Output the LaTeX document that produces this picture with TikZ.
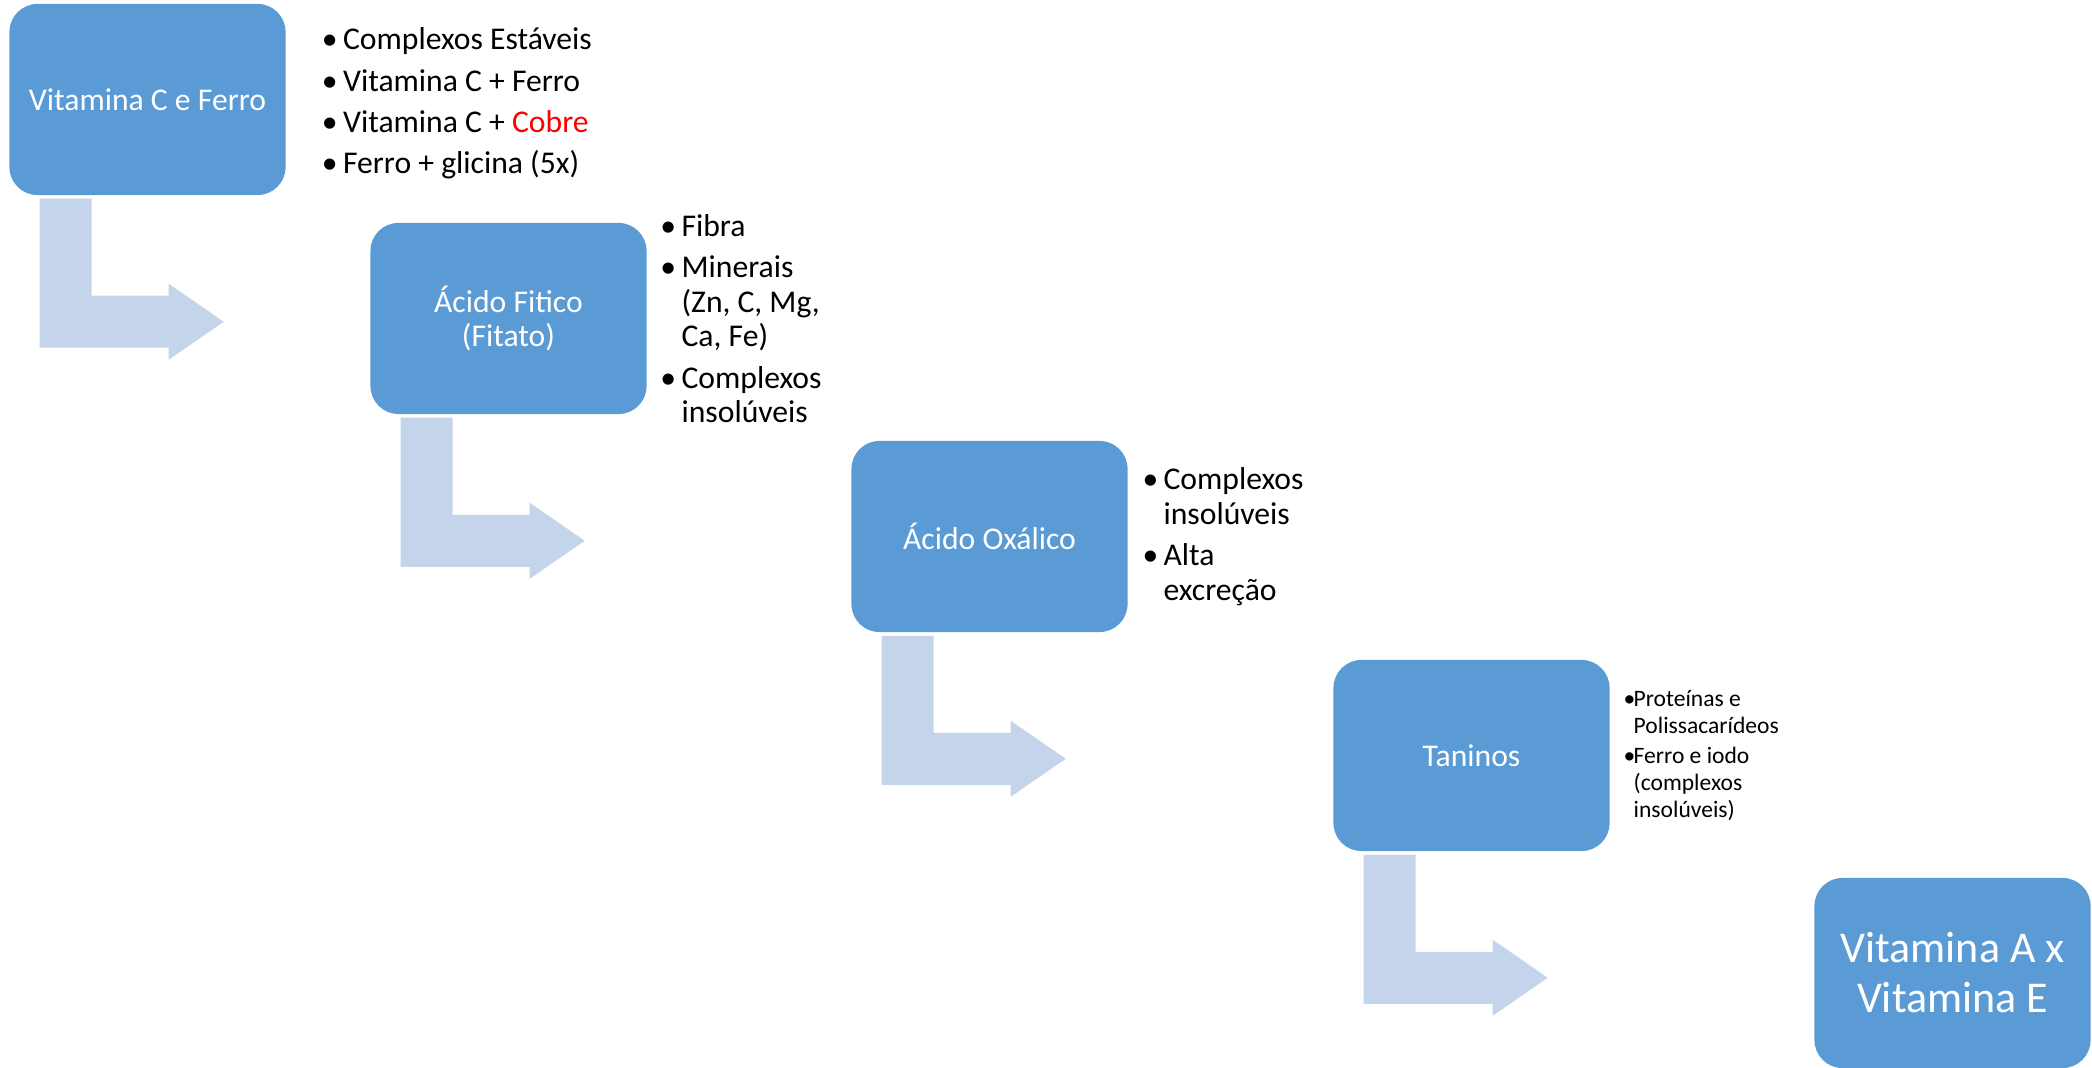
\documentclass[tikz,border=0pt]{standalone}
\usepackage{fontspec}
\setmainfont{Carlito}
\usepackage{xcolor}
\usepackage{tikz}
\usetikzlibrary{calc}
\definecolor{boxblue}{HTML}{5B9BD5}
\definecolor{arrowblue}{HTML}{C4D4EA}
\newcommand{\bul}[1][6pt]{\makebox[#1][l]{•}}
\newcommand{\cont}[1][6pt]{\hspace*{#1}}
\tikzset{
  stepbox/.style={rectangle, rounded corners=0.28cm, fill=boxblue, text=white,
                  minimum width=2.76cm, minimum height=1.91cm, align=center,
                  inner sep=2pt, font=\fontsize{9}{9.7}\selectfont},
  bigbox/.style={stepbox, minimum height=1.9cm,
                 font=\fontsize{12.5}{14.2}\selectfont},
  itemlist/.style={anchor=west, inner sep=0pt, text width=3.2cm, align=left,
                   font=\fontsize{9}{9.8}\selectfont,
                   execute at begin node={\spaceskip=0pt\xspaceskip=0pt\relax}},
  smalllist/.style={itemlist, font=\fontsize{6.7}{7.6}\selectfont},
  bentarrow/.style={fill=arrowblue, draw=none},
}

\begin{document}
\begin{tikzpicture}[x=0.01cm, y=-0.01cm]
  \useasboundingbox (0,0) rectangle (2092,1068);

  \node[stepbox] (vitc)    at (147.5,99.5)  {Vitamina C e Ferro};
  \node[stepbox] (fitico)  at (508.5,318.5) {Ácido Fitico\\(Fitato)};
  \node[stepbox] (oxalico) at (989.5,536.5) {Ácido Oxálico};
  \node[stepbox] (taninos) at (1471.5,755.5){Taninos};
  \node[bigbox]  (vitae)   at (1952.5,973)  {Vitamina A x\\Vitamina E};

  \node[itemlist]  (lvitc)    at ($(vitc.east)+(35,4)$)
    {\bul Complexos Estáveis\\[2pt]\bul Vitamina C + Ferro\\[2pt]\bul Vitamina C + \textcolor{red}{Cobre}\\[2pt]\bul Ferro + glicina (5x)};
  \node[itemlist]  (lfitico)  at ($(fitico.east)+(12.5,0)$)
    {\bul Fibra\\[2pt]\bul Minerais\\\cont (Zn, C, Mg,\\\cont Ca, Fe)\\[2pt]\bul Complexos\\\cont insolúveis};
  \node[itemlist]  (loxalico) at ($(oxalico.east)+(13.5,0)$)
    {\bul Complexos\\\cont insolúveis\\[2pt]\bul Alta\\\cont excreção};
  \node[smalllist] (ltaninos) at ($(taninos.east)+(12.5,0)$)
    {\bul[2.9pt]Proteínas e\\\cont[2.9pt]Polissacarídeos\\[1.1pt]\bul[2.9pt]Ferro e iodo\\\cont[2.9pt](complexos\\\cont[2.9pt]insolúveis)};

  \fill[bentarrow] ($(vitc.south west)+(31,3)$) -- ++(52,0) -- ++(0,97) -- ++(77,0) -- ++(0,-12)
    -- ++(55,38) -- ++(-55,38) -- ++(0,-12) -- ++(-129,0) -- cycle;
  \fill[bentarrow] ($(fitico.south west)+(31,3)$) -- ++(52,0) -- ++(0,97) -- ++(77,0) -- ++(0,-12)
    -- ++(55,38) -- ++(-55,38) -- ++(0,-12) -- ++(-129,0) -- cycle;
  \fill[bentarrow] ($(oxalico.south west)+(31,3)$) -- ++(52,0) -- ++(0,97) -- ++(77,0) -- ++(0,-12)
    -- ++(55,38) -- ++(-55,38) -- ++(0,-12) -- ++(-129,0) -- cycle;
  \fill[bentarrow] ($(taninos.south west)+(31,3)$) -- ++(52,0) -- ++(0,97) -- ++(77,0) -- ++(0,-12)
    -- ++(55,38) -- ++(-55,38) -- ++(0,-12) -- ++(-129,0) -- cycle;

\end{tikzpicture}
\end{document}
